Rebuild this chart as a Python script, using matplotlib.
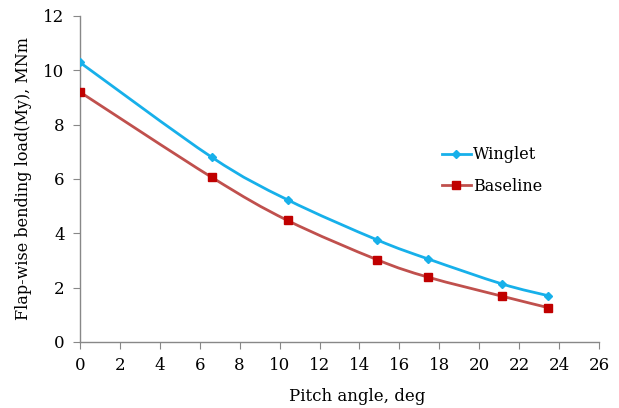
import numpy as np
import matplotlib
matplotlib.use("Agg")
import matplotlib.pyplot as plt
from matplotlib.path import Path
from matplotlib.patches import PathPatch
from matplotlib.lines import Line2D

pitch_winglet = [0, 6.6, 10.4, 14.9, 17.45, 21.15, 23.45]
load_winglet = [10.29, 6.80, 5.23, 3.75, 3.05, 2.13, 1.70]
pitch_baseline = [0, 6.6, 10.4, 14.9, 17.45, 21.15, 23.45]
load_baseline = [9.20, 6.06, 4.47, 3.02, 2.38, 1.68, 1.26]

plt.rcParams['font.family'] = ['DejaVu Serif']


def smooth_path(x, y):
    # Catmull-Rom style bezier through the points (like Excel "smoothed line")
    pts = np.column_stack([x, y]).astype(float)
    verts = [pts[0]]
    codes = [Path.MOVETO]
    n = len(pts)
    for i in range(n - 1):
        p0 = pts[i - 1] if i > 0 else pts[i]
        p1 = pts[i]
        p2 = pts[i + 1]
        p3 = pts[i + 2] if i + 2 < n else pts[i + 1]
        c1 = p1 + (p2 - p0) / 6.0
        c2 = p2 - (p3 - p1) / 6.0
        verts += [c1, c2, p2]
        codes += [Path.CURVE4] * 3
    return Path(verts, codes)


fig = plt.figure(figsize=(6.19, 4.08), dpi=100)
ax = fig.add_axes([0.129, 0.162, 0.839, 0.799])

blue = '#17b0ea'
red_line = '#c0504d'
red_mark = '#c00000'

ax.add_patch(PathPatch(smooth_path(pitch_winglet, load_winglet), fill=False,
                       edgecolor=blue, lw=2.0, zorder=2))
ax.add_patch(PathPatch(smooth_path(pitch_baseline, load_baseline), fill=False,
                       edgecolor=red_line, lw=2.0, zorder=2))
ax.plot(pitch_winglet, load_winglet, ls='none', marker='D', ms=4.5,
        color=blue, zorder=3)
ax.plot(pitch_baseline, load_baseline, ls='none', marker='s', ms=5.5,
        color=red_mark, zorder=3)

ax.set_xlim(0, 26)
ax.set_ylim(0, 12)
ax.set_xticks(range(0, 27, 2))
ax.set_yticks(range(0, 13, 2))

for s in ['top', 'right']:
    ax.spines[s].set_visible(False)
for s in ['left', 'bottom']:
    ax.spines[s].set_color('#888888')
    ax.spines[s].set_linewidth(1.0)
ax.tick_params(axis='both', colors='#888888', length=5, labelsize=12,
               labelcolor='black')
ax.tick_params(axis='x', pad=6)
ax.tick_params(axis='y', pad=6)

ax.set_xlabel('Pitch angle, deg', fontsize=12)
ax.xaxis.set_label_coords(0.534, -0.14)
ax.set_ylabel('Flap-wise bending load(My), MNm', fontsize=11.5, labelpad=8)

handles = [
    Line2D([], [], color=blue, lw=2, marker='D', ms=4.5),
    Line2D([], [], color=red_line, lw=2, marker='s', ms=5.5,
           markerfacecolor=red_mark, markeredgecolor=red_mark),
]
ax.legend(handles, ['Winglet', 'Baseline'], loc='upper left',
          bbox_to_anchor=(0.685, 0.62), frameon=False, fontsize=11.5,
          handlelength=1.8, handletextpad=0.15, labelspacing=0.9,
          borderaxespad=0)

fig.savefig('out.png', dpi=100)
